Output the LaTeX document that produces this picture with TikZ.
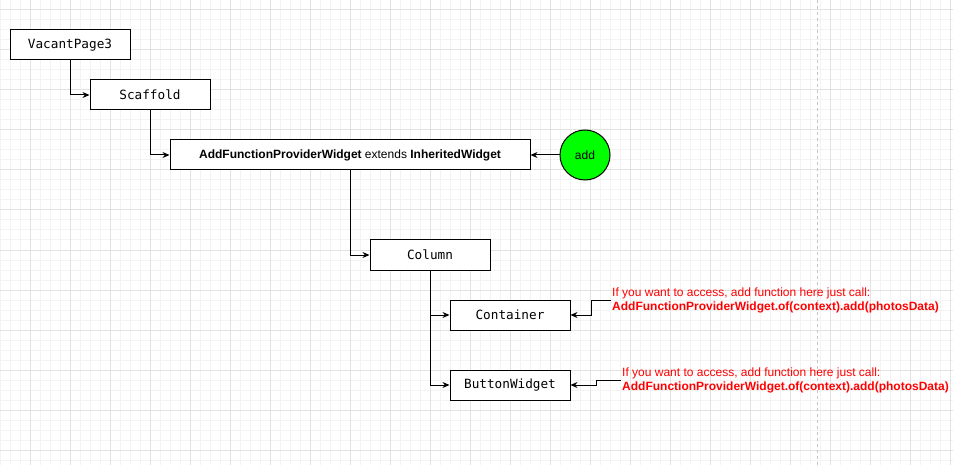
\documentclass[tikz,border=0pt]{standalone}
\usepackage{fontspec}
\setmainfont{Liberation Sans}
\newfontfamily\boxmono{DejaVu Sans Mono}
\usetikzlibrary{arrows.meta}
\definecolor{gridminor}{HTML}{F3F3F3}
\definecolor{gridmajor}{HTML}{E2E2E2}
\definecolor{dashgray}{HTML}{C4C4C4}
\definecolor{redtxt}{HTML}{FF0000}
\definecolor{addgreen}{HTML}{00FF00}
\tikzset{
  monobox/.style={draw=black, line width=1pt, minimum width=120pt, minimum height=30pt, inner sep=0pt, font=\boxmono\fontsize{12.7}{14}\selectfont},
  widebox/.style={draw=black, line width=1pt, minimum width=360pt, minimum height=30pt, inner sep=0pt, font=\fontsize{12}{14}\selectfont},
  addcircle/.style={draw=black, line width=1pt, circle, fill=addgreen, minimum size=50pt, inner sep=0pt, font=\fontsize{12}{14}\selectfont},
  note/.style={anchor=west, align=left, inner sep=0pt, text=redtxt, font=\fontsize{12}{14}\selectfont},
  arr/.style={draw=black, line width=1pt, -{Stealth[length=7pt,width=6pt]}},
  minorline/.style={draw=gridminor, line width=1pt},
  majorline/.style={draw=gridmajor, line width=1pt},
}
\begin{document}
\begin{tikzpicture}[x=1pt, y=-1pt]
\useasboundingbox (0,0) rectangle (953,465);
\fill[white] (0,0) rectangle (953,465);
% grid
\foreach \x in {0,10,...,950} \draw[minorline] (\x,0) -- (\x,465);
\foreach \y in {0,10,...,460} \draw[minorline] (0,\y) -- (953,\y);
\foreach \x in {30,70,...,950} \draw[majorline] (\x,0) -- (\x,465);
\foreach \y in {10,50,...,450} \draw[majorline] (0,\y) -- (953,\y);
\draw[dashgray, line width=1pt, dash pattern=on 3pt off 3pt] (817,0) -- (817,465);
% nodes
\node[monobox, fill=white] (vp) at (70,45) {VacantPage3};
\node[monobox, fill=white] (sc) at (150,95) {Scaffold};
\node[widebox, fill=white] (afp) at (350,155) {\textbf{AddFunctionProviderWidget} extends \textbf{InheritedWidget}};
\node[addcircle] (add) at (585,155) {add};
\node[monobox, fill=white] (col) at (430,255) {Column};
\node[monobox, fill=white] (cont) at (510,315) {Container};
\node[monobox, fill=white] (btn) at (510,385) {ButtonWidget};
\node[note] (lab1) at (612,300) {If you want to access, add function here just call:\\\textbf{AddFunctionProviderWidget.of(context).add(photosData)}};
\node[note] (lab2) at (622,380) {If you want to access, add function here just call:\\\textbf{AddFunctionProviderWidget.of(context).add(photosData)}};
% connectors
\draw[arr] (vp.south) |- (sc.west);
\draw[arr] (sc.south) |- (afp.west);
\draw[arr] (afp.south) |- (col.west);
\draw[arr] (col.south) |- (cont.west);
\draw[arr] (col.south) |- (btn.west);
\draw[arr] (add.west) -- (afp.east);
\draw[arr] ([xshift=-1pt]lab1.west) -- ++(-20,0) |- (cont.east);
\draw[arr] ([xshift=-1pt]lab2.west) -- ++(-25,0) |- (btn.east);
\end{tikzpicture}
\end{document}
